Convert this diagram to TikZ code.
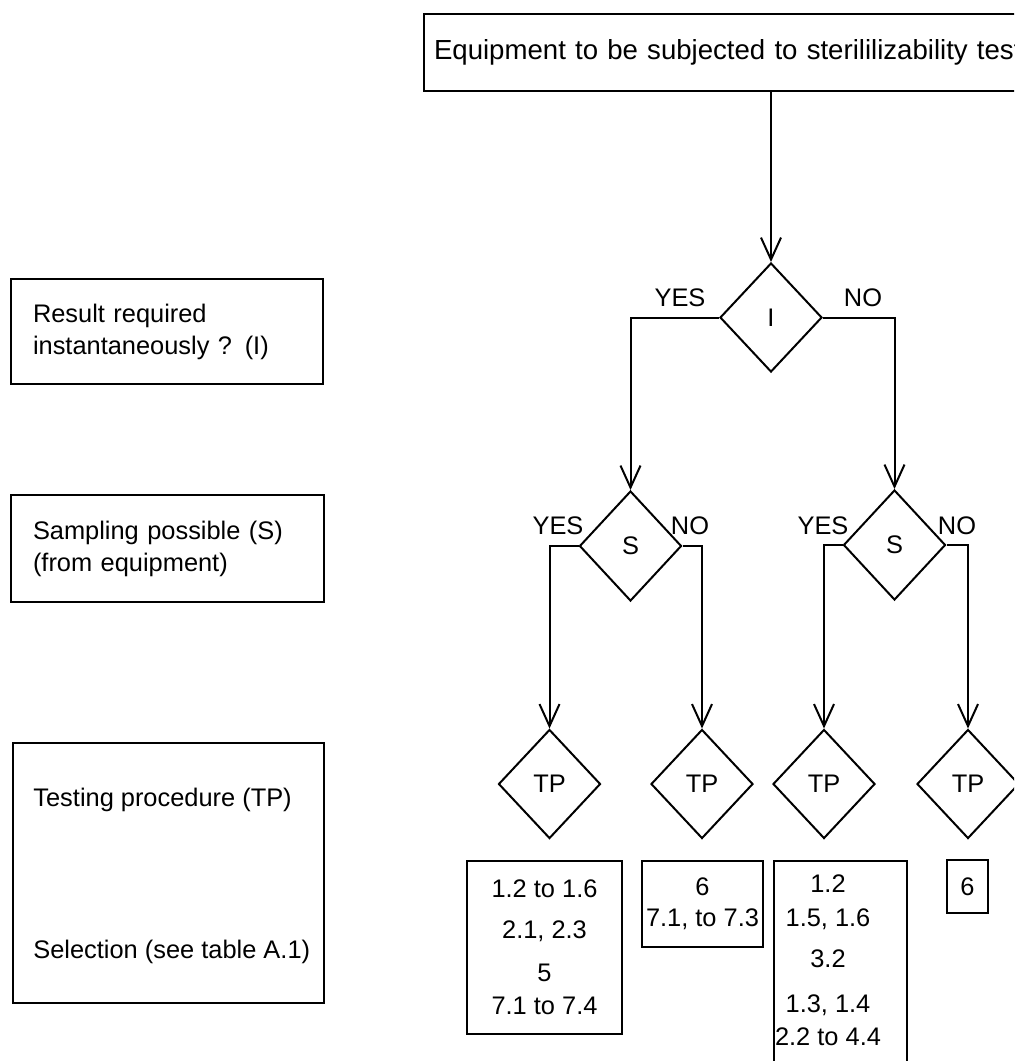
\documentclass[tikz,border=0pt]{standalone}
\usepackage{fontspec}
\setmainfont{Liberation Sans}
\usetikzlibrary{shapes.geometric, arrows.meta}

\begin{document}
\begin{tikzpicture}[x = 0.5pt, y = -0.5pt,
	every node/.style = {font = \fontsize{12.7}{16}\selectfont},
	box/.style = {draw, line width = 1pt, inner sep = 0pt},
	choice/.style = {draw, diamond, line width = 1pt, inner sep = 0pt, minimum width = 51pt, minimum height = 54.5pt},
	flow/.style = {line width = 1pt, -{Straight Barb[length = 11pt, width = 10pt]}},
	txt/.style = {inner sep = 0pt}]

	\useasboundingbox (0, 0) rectangle (1014, 1061);
	\clip (0, 0) rectangle (1014, 1061);

	% Questions on the left
	
	\node [box, anchor = north west, minimum width = 156pt, minimum height = 52.5pt, text width = 134pt, align = left] (qinst) at (10, 278) {Result required\\instantaneously ? (I)};
	\node [box, anchor = north west, minimum width = 156.5pt, minimum height = 53.5pt, text width = 134.5pt, align = left] (qsamp) at (10, 494) {Sampling possible (S)\\(from equipment)};
	\node [box, anchor = north west, minimum width = 155.5pt, minimum height = 130pt] (qproc) at (12, 742) {};
	\node [txt, anchor = west] (tplabel) at (33, 800) {Testing procedure (TP)};
	\node [txt, anchor = west] (sellabel) at (33, 952) {Selection (see table A.1)};
	
	% Decision tree
	
	\node [box, anchor = north west, minimum width = 330pt, minimum height = 38.5pt, text width = 320pt, align = left, font = \fontsize{13.8}{16}\selectfont] (equip) at (423, 12.5) {Equipment to be subjected to sterililizability test};
	
	\node [choice] (I) at (771, 317.5) {I};
	\node [choice, minimum height = 55pt] (S1) at (630.5, 546) {S};
	\node [choice, minimum height = 55pt] (S2) at (894.5, 545) {S};
	
	\node [choice] (TP1) at (549.5, 784) {TP};
	\node [choice] (TP2) at (702, 784) {TP};
	\node [choice] (TP3) at (824, 784) {TP};
	\node [choice] (TP4) at (968, 784) {TP};
	
	\node [txt] (yesI) at (680, 298) {YES};
	\node [txt] (noI) at (863, 298) {NO};
	\node [txt] (yesS1) at (558, 526) {YES};
	\node [txt] (noS1) at (690, 526) {NO};
	\node [txt] (yesS2) at (823, 526) {YES};
	\node [txt] (noS2) at (957, 526) {NO};
	
	\draw [flow] (equip.south -| I.north) -- (I.north);
	\draw [flow] (I.west) -| (S1.north);
	\draw [flow] (I.east) -| (S2.north);
	\draw [flow] (S1.west) -| (TP1.north);
	\draw [flow] (S1.east) -| (TP2.north);
	\draw [flow] (S2.west) -| (TP3.north);
	\draw [flow] (S2.east) -| (TP4.north);
	
	% Selections
	
	\node [box, align = center, minimum width = 77.5pt, minimum height = 86.5pt] (sel1) at (544.5, 947.5) {1.2 to 1.6\\[4.5pt]2.1, 2.3\\[5.5pt]5\\[0.5pt]7.1 to 7.4};
	\node [box, align = center, minimum width = 60.5pt, minimum height = 43pt] (sel2) at (702.5, 904) {6\\[-0.5pt]7.1, to 7.3};
	\node [box, anchor = north west, minimum width = 66.5pt, minimum height = 110pt] (sel3) at (773, 860) {};
	\node [txt, align = center] (sel3txt) at (828, 960.5) {1.2\\[1pt]1.5, 1.6\\[4.5pt]3.2\\[6.5pt]1.3, 1.4\\[0.5pt]2.2 to 4.4};
	\node [box, minimum width = 20.5pt, minimum height = 26.5pt] (sel4) at (967.5, 886.5) {6};
	
\end{tikzpicture}
\end{document}
